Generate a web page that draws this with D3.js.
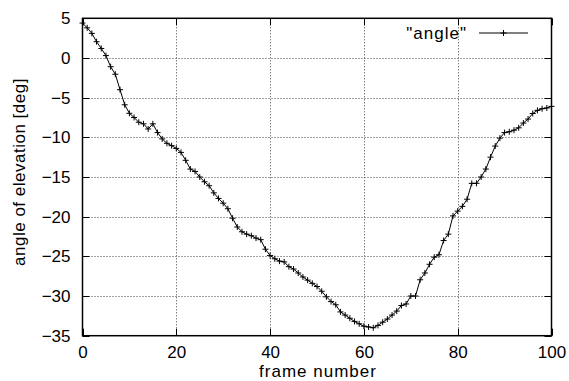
<!DOCTYPE html>
<html>
<head>
<meta charset="utf-8">
<script src="https://cdn.jsdelivr.net/npm/d3@7"></script>
<style>
  html, body { margin: 0; padding: 0; background: #fff; }
  svg { display: block; font-family: "Liberation Sans", Arial, sans-serif; }
</style>
</head>
<body>
<svg id="chart" width="569" height="381"></svg>
<script>
// frame numbers and elevation angles
const frames = d3.range(0, 101);
const angles = [
  4.4, 3.8, 3.1, 2.05, 1.2, 0.3, -1.1, -2.05, -4.0, -5.9,
  -6.97, -7.5, -8.1, -8.3, -8.95, -8.3, -9.4, -10.2, -10.75, -11.05,
  -11.4, -11.9, -12.9, -14.0, -14.3, -15.0, -15.6, -16.1, -17.0, -17.7,
  -18.3, -19.0, -20.2, -21.3, -21.9, -22.2, -22.4, -22.7, -22.9, -24.1,
  -24.9, -25.3, -25.6, -25.7, -26.3, -26.6, -27.1, -27.6, -28.0, -28.4,
  -28.8, -29.4, -30.1, -30.7, -31.1, -32.0, -32.4, -32.8, -33.2, -33.5,
  -33.8, -33.9, -34.0, -33.7, -33.3, -32.9, -32.4, -31.9, -31.2, -31.0,
  -30.0, -30.0, -27.95, -27.1, -26.0, -25.1, -24.8, -23.0, -22.2, -19.9,
  -19.3, -18.7, -17.8, -15.8, -15.8, -15.0, -14.0, -12.5, -11.1, -10.1,
  -9.4, -9.3, -9.1, -8.8, -8.2, -7.7, -7.0, -6.6, -6.4, -6.3,
  -6.1
];
const xTicks = [0, 20, 40, 60, 80, 100];
const yTicks = [5, 0, -5, -10, -15, -20, -25, -30, -35];
const seriesName = '"angle"';

// plot box
const boxL = 82.5, boxR = 551.5, boxT = 18.3, boxB = 335.7;
const fontSize = 17;

const svg = d3.select('#chart');

const x = d3.scaleLinear().domain([0, 100]).range([boxL, boxR]);
const y = d3.scaleLinear().domain([-35, 5]).range([boxB, boxT]);

// dotted grid
const grid = svg.append('g')
    .attr('stroke', '#444')
    .attr('stroke-width', 1)
    .attr('stroke-dasharray', '1,2');

grid.selectAll('.vg')
    .data(xTicks.filter(d => d > 0 && d < 100))
    .enter().append('line')
    .attr('x1', d => Math.round(x(d)) + 0.5).attr('x2', d => Math.round(x(d)) + 0.5)
    .attr('y1', boxT).attr('y2', boxB);

grid.selectAll('.hg')
    .data(yTicks.filter(d => d > -35 && d < 5))
    .enter().append('line')
    .attr('y1', d => Math.round(y(d)) + 0.5).attr('y2', d => Math.round(y(d)) + 0.5)
    .attr('x1', boxL).attr('x2', boxR);

// axes: labels only, ticks are drawn inward below
const xAxis = svg.append('g')
    .attr('transform', `translate(0, ${boxB})`)
    .call(d3.axisBottom(x).tickValues(xTicks).tickSize(0).tickPadding(10));
const yAxis = svg.append('g')
    .attr('transform', `translate(${boxL}, 0)`)
    .call(d3.axisLeft(y).tickValues(yTicks).tickSize(0).tickPadding(12));

[xAxis, yAxis].forEach(a => {
  a.select('.domain').remove();
  a.selectAll('text')
      .attr('font-family', '"Liberation Sans", Arial, sans-serif')
      .attr('font-size', fontSize)
      .attr('fill', '#000');
});
xAxis.selectAll('text').attr('dy', '0.75em');

// inward tick marks on all four sides
const tl = 7;
const ticks = svg.append('g').attr('stroke', '#000').attr('stroke-width', 1);
xTicks.forEach(d => {
  const px = Math.round(x(d)) + 0.5;
  ticks.append('line').attr('x1', px).attr('x2', px).attr('y1', boxB).attr('y2', boxB - tl);
  ticks.append('line').attr('x1', px).attr('x2', px).attr('y1', boxT).attr('y2', boxT + tl);
});
yTicks.forEach(d => {
  const py = Math.round(y(d)) + 0.5;
  ticks.append('line').attr('y1', py).attr('y2', py).attr('x1', boxL).attr('x2', boxL + tl);
  ticks.append('line').attr('y1', py).attr('y2', py).attr('x1', boxR).attr('x2', boxR - tl);
});

// series line
const line = d3.line()
    .x((d, i) => x(frames[i]))
    .y(d => y(d));

svg.append('path')
    .datum(angles)
    .attr('fill', 'none')
    .attr('stroke', '#000')
    .attr('stroke-width', 1)
    .attr('d', line);

// "+" point markers
const ms = 3;
const plus = (cx, cy) => `M${cx - ms},${cy}H${cx + ms}M${cx},${cy - ms}V${cy + ms}`;

svg.append('path')
    .attr('fill', 'none')
    .attr('stroke', '#000')
    .attr('stroke-width', 1)
    .attr('d', angles.map((d, i) => plus(x(frames[i]), y(d))).join(''));

// plot border
svg.append('rect')
    .attr('x', boxL).attr('y', boxT)
    .attr('width', boxR - boxL).attr('height', boxB - boxT)
    .attr('fill', 'none')
    .attr('stroke', '#000')
    .attr('stroke-width', 1.5);

// legend
const legY = 33;
svg.append('text')
    .attr('x', 467).attr('y', legY)
    .attr('dy', '0.35em')
    .attr('text-anchor', 'end')
    .attr('font-size', fontSize)
    .attr('letter-spacing', 1)
    .text(seriesName);
svg.append('line')
    .attr('x1', 479).attr('x2', 528)
    .attr('y1', legY).attr('y2', legY)
    .attr('stroke', '#000');
svg.append('path')
    .attr('fill', 'none').attr('stroke', '#000')
    .attr('d', plus(503.5, legY));

// axis titles
svg.append('text')
    .attr('x', (boxL + boxR) / 2 + 1)
    .attr('y', 377.2)
    .attr('text-anchor', 'middle')
    .attr('font-size', fontSize)
    .attr('letter-spacing', 1)
    .text('frame number');

svg.append('text')
    .attr('transform', `translate(24.5, 172) rotate(-90)`)
    .attr('text-anchor', 'middle')
    .attr('font-size', fontSize)
    .attr('letter-spacing', 0.5)
    .text('angle of elevation [deg]');
</script>
</body>
</html>
